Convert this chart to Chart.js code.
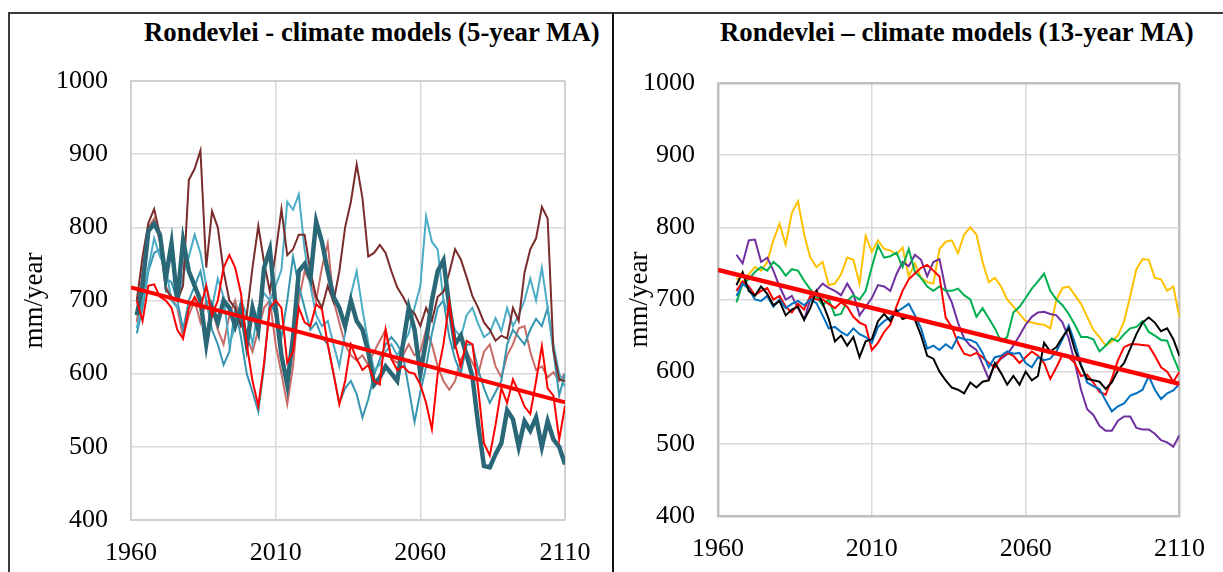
<!DOCTYPE html>
<html>
<head>
<meta charset="utf-8">
<title>Rondevlei - climate models</title>
<script src="https://cdn.jsdelivr.net/npm/chart.js@4.4.1/dist/chart.umd.min.js"></script>
<style>
  html, body { margin: 0; padding: 0; background: #fff; }
  body { width: 1223px; height: 572px; position: relative; overflow: hidden; font-family: "Liberation Serif", "Times New Roman", serif; }
  .frame { position: absolute; top: 12px; height: 580px; box-sizing: border-box; border-top: 2px solid #3a3a3a; }
  #frame-left { left: 8px; width: 606px; border-left: 2px solid #3a3a3a; border-right: 2px solid #111; }
  #frame-right { left: 614px; width: 620px; }
  .panel-title { position: absolute; top: 19px; font-weight: bold; font-size: 26.8px; line-height: 27px; white-space: nowrap; color: #000; }
  #title-left { left: 144px; }
  #title-right { left: 720px; }
  canvas { position: absolute; top: 0; }
  #chart-left { left: 8px; }
  #chart-right { left: 613px; }
</style>
</head>
<body>
<div class="frame" id="frame-left"></div>
<div class="frame" id="frame-right"></div>
<div class="panel-title" id="title-left">Rondevlei - climate models (5-year MA)</div>
<div class="panel-title" id="title-right">Rondevlei – climate models (13-year MA)</div>
<canvas id="chart-left" width="605" height="572"></canvas>
<canvas id="chart-right" width="610" height="572"></canvas>
<script>
// 5-year moving averages, every second year
const years5 = [1962, 1964, 1966, 1968, 1970, 1972, 1974, 1976, 1978, 1980,
  1982, 1984, 1986, 1988, 1990, 1992, 1994, 1996, 1998, 2000,
  2002, 2004, 2006, 2008, 2010, 2012, 2014, 2016, 2018, 2020,
  2022, 2024, 2026, 2028, 2030, 2032, 2034, 2036, 2038, 2040,
  2042, 2044, 2046, 2048, 2050, 2052, 2054, 2056, 2058, 2060,
  2062, 2064, 2066, 2068, 2070, 2072, 2074, 2076, 2078, 2080,
  2082, 2084, 2086, 2088, 2090, 2092, 2094, 2096, 2098, 2100,
  2102, 2104, 2106, 2108, 2110];

const brown5 = [700, 760, 806, 825, 790, 715, 705, 700, 720, 865,
  880, 905, 745, 822, 800, 740, 700, 690, 665, 680,
  745, 802, 752, 712, 765, 825, 762, 770, 790, 790,
  740, 705, 690, 720, 698, 740, 800, 835, 886, 840,
  760, 765, 776, 765, 740, 718, 705, 690, 682, 665,
  690, 672, 705, 712, 738, 770, 756, 732, 706, 690,
  670, 660, 645, 652, 648, 690, 672, 738, 770, 785,
  828, 812, 632, 592, 590];

const cyan5 = [662, 700, 745, 785, 760, 745, 700, 690, 735, 760,
  790, 765, 720, 690, 730, 705, 640, 665, 700, 680,
  640, 690, 710, 700, 720, 742, 835, 824, 845, 770,
  720, 680, 665, 672, 640, 610, 655, 708, 740, 688,
  642, 605, 612, 630, 640, 625, 640, 655, 690, 720,
  815, 780, 770, 700, 680, 660, 650, 680, 690, 668,
  650, 656, 676, 658, 690, 665, 680, 700, 730, 700,
  745, 690, 640, 600, 582];

const teal5 = [655, 690, 740, 765, 770, 730, 725, 700, 660, 700,
  720, 740, 700, 660, 640, 612, 630, 690, 650, 600,
  575, 548, 610, 700, 680, 650, 700, 760, 720, 690,
  660, 670, 650, 640, 600, 560, 580, 590, 572, 540,
  565, 598, 620, 640, 650, 640, 625, 580, 534, 575,
  610, 655, 690, 700, 650, 620, 600, 640, 640, 605,
  580, 560, 575, 590, 640, 660, 650, 640, 660, 675,
  665, 690, 630, 570, 600];

const red5 = [700, 672, 720, 722, 705, 700, 690, 660, 648, 690,
  705, 690, 720, 680, 700, 745, 762, 745, 710, 640,
  590, 556, 615, 690, 700, 690, 615, 630, 690, 670,
  665, 695, 688, 640, 600, 558, 590, 640, 620, 605,
  612, 590, 585, 660, 620, 605, 610, 602, 600, 585,
  560, 524, 600, 640, 698, 640, 610, 645, 640, 580,
  505, 488, 530, 580, 560, 592, 575, 555, 545, 590,
  638, 580, 570, 510, 556];

const salmon5 = [670, 740, 800, 812, 780, 720, 705, 690, 650, 680,
  700, 670, 700, 690, 660, 640, 680, 700, 670, 650,
  630, 660, 690, 700, 640, 600, 558, 610, 700, 740,
  725, 700, 745, 778, 700, 670, 640, 625, 618, 625,
  612, 630, 645, 660, 620, 615, 625, 640, 625, 630,
  660, 640, 610, 590, 578, 590, 620, 630, 615, 600,
  630, 640, 610, 595, 625, 640, 662, 665, 630, 605,
  610, 595, 602, 590, 600];

const darkTeal5 = [680, 720, 795, 805, 790, 730, 778, 700, 782, 740,
  720, 700, 640, 690, 670, 700, 690, 665, 690, 640,
  690, 660, 745, 770, 690, 625, 585, 650, 740, 750,
  730, 808, 780, 740, 705, 690, 665, 700, 672, 660,
  630, 585, 595, 610, 600, 590, 640, 690, 660, 600,
  645, 700, 740, 755, 692, 640, 652, 625, 596, 530,
  474, 472, 490, 505, 550, 538, 500, 535, 522, 540,
  500, 535, 510, 500, 476];

// 13-year moving averages, every second year
const years13 = [1966, 1968, 1970, 1972, 1974, 1976, 1978, 1980, 1982, 1984,
  1986, 1988, 1990, 1992, 1994, 1996, 1998, 2000, 2002, 2004,
  2006, 2008, 2010, 2012, 2014, 2016, 2018, 2020, 2022, 2024,
  2026, 2028, 2030, 2032, 2034, 2036, 2038, 2040, 2042, 2044,
  2046, 2048, 2050, 2052, 2054, 2056, 2058, 2060, 2062, 2064,
  2066, 2068, 2070, 2072, 2074, 2076, 2078, 2080, 2082, 2084,
  2086, 2088, 2090, 2092, 2094, 2096, 2098, 2100, 2102, 2104,
  2106, 2108, 2110];

const black13 = [720, 738, 712, 705, 718, 708, 692, 698, 678, 686,
  690, 672, 688, 712, 695, 673, 642, 650, 636, 648,
  620, 642, 645, 670, 680, 670, 685, 673, 676, 672,
  650, 622, 618, 600, 588, 578, 575, 570, 585, 578,
  586, 588, 612, 598, 582, 594, 582, 600, 588, 594,
  640, 628, 634, 648, 660, 630, 608, 590, 588, 586,
  576, 585, 602, 612, 632, 652, 668, 675, 668, 656,
  660, 645, 622];

const blue13 = [705, 722, 715, 700, 698, 705, 690, 700, 688, 694,
  698, 692, 700, 695, 678, 660, 662, 655, 650, 660,
  652, 648, 640, 662, 670, 675, 683, 688, 694, 678,
  660, 632, 636, 630, 638, 632, 648, 645, 644, 640,
  626, 606, 620, 622, 628, 625, 626, 612, 606, 620,
  616, 618, 628, 645, 664, 640, 610, 585, 580, 576,
  560, 545, 552, 556, 567, 570, 575, 594, 575, 562,
  570, 574, 583];

const red13 = [712, 725, 718, 706, 712, 716, 700, 705, 690, 682,
  694, 686, 705, 700, 700, 694, 688, 696, 690, 676,
  668, 664, 630, 640, 655, 665, 690, 712, 728, 736,
  744, 748, 740, 732, 675, 662, 640, 625, 622, 626,
  620, 612, 606, 620, 626, 622, 612, 620, 628, 622,
  612, 590, 606, 624, 620, 612, 594, 596, 585, 572,
  568, 590, 616, 634, 638, 638, 637, 636, 622, 606,
  600, 586, 600];

const green13 = [696, 722, 728, 738, 745, 740, 752, 745, 733, 742,
  740, 726, 714, 704, 692, 700, 678, 680, 698, 706,
  700, 712, 745, 775, 758, 760, 765, 745, 770, 738,
  730, 718, 712, 718, 712, 712, 715, 706, 700, 676,
  688, 674, 660, 642, 648, 682, 690, 702, 715, 725,
  736, 712, 700, 692, 680, 665, 648, 648, 645, 628,
  636, 646, 642, 652, 660, 662, 670, 655, 650, 644,
  643, 620, 600];

const purple13 = [762, 750, 782, 783, 752, 758, 740, 718, 700, 705,
  688, 672, 700, 712, 722, 716, 712, 706, 722, 708,
  678, 690, 702, 720, 718, 712, 735, 752, 746, 762,
  755, 732, 752, 756, 714, 696, 668, 646, 636, 630,
  610, 590, 610, 618, 624, 636, 650, 665, 676, 682,
  683, 680, 678, 668, 646, 612, 575, 548, 540, 525,
  518, 518, 532, 538, 538, 522, 520, 520, 514, 505,
  502, 496, 512];

const gold13 = [730, 722, 735, 745, 740, 752, 782, 805, 776, 820,
  836, 790, 758, 745, 752, 720, 722, 735, 758, 755,
  722, 788, 766, 782, 770, 768, 762, 772, 732, 750,
  730, 724, 722, 770, 780, 782, 764, 790, 800, 790,
  752, 724, 730, 718, 700, 690, 680, 670, 668, 666,
  665, 660, 700, 716, 718, 706, 694, 676, 658, 648,
  636, 642, 650, 670, 705, 742, 756, 755, 730, 728,
  712, 718, 675];

// linear trend lines, end points
const trendYears = [1960, 2110];
const trend5 = [718, 561];
const trend13 = [741, 583];

const xTicks = { min: 1960, max: 2110, step: 50 };
const yTicks = { min: 400, max: 1000, step: 100 };

Chart.defaults.font.family = '"Liberation Serif", "Times New Roman", serif';
Chart.defaults.color = '#000';

function points(xs, ys) {
  return xs.map((x, i) => ({ x: x, y: ys[i] }));
}

function line(xs, ys, color, width, order) {
  return {
    data: points(xs, ys),
    borderColor: color,
    borderWidth: width,
    pointRadius: 0,
    tension: 0,
    order: order
  };
}

// frame: plot area placement inside the canvas and the plot border style
function buildOptions(frame) {
  const isEdge = (ctx, v) => ctx.tick && ctx.tick.value === v;
  return {
    responsive: false,
    animation: false,
    events: [],
    layout: { padding: { left: 0, top: frame.top, right: frame.right, bottom: 0 } },
    plugins: { legend: { display: false }, tooltip: { enabled: false } },
    scales: {
      x: {
        type: 'linear',
        min: xTicks.min,
        max: xTicks.max,
        afterFit: s => { s.height = frame.axisHeight; },
        ticks: { stepSize: xTicks.step, padding: 18, maxRotation: 0, font: { size: 26 }, callback: v => String(v) },
        grid: {
          drawTicks: false,
          color: ctx => isEdge(ctx, xTicks.max) ? frame.edge : '#d9d9d9',
          lineWidth: ctx => isEdge(ctx, xTicks.max) ? frame.edgeWidth : 1.5
        },
        border: { color: frame.edge, width: frame.edgeWidth }
      },
      y: {
        type: 'linear',
        min: yTicks.min,
        max: yTicks.max,
        afterFit: s => { s.width = frame.axisWidth; },
        ticks: { stepSize: yTicks.step, padding: 23, font: { size: 26 }, callback: v => String(v) },
        grid: {
          drawTicks: false,
          color: ctx => isEdge(ctx, yTicks.max) ? frame.edge : '#d9d9d9',
          lineWidth: ctx => isEdge(ctx, yTicks.max) ? frame.edgeWidth : 1.5
        },
        border: { color: frame.edge, width: frame.edgeWidth },
        title: { display: true, text: 'mm/year', font: { size: 27 }, padding: { top: 11, bottom: 0 } }
      }
    }
  };
}

new Chart(document.getElementById('chart-left'), {
  type: 'line',
  data: {
    datasets: [
      line(trendYears, trend5, '#ff0000', 4, 0),
      line(years5, red5, '#ff0000', 2, 1),
      line(years5, darkTeal5, '#2a6878', 4.5, 2),
      line(years5, brown5, '#7a2c2a', 2, 3),
      line(years5, cyan5, '#4bacc6', 2, 4),
      line(years5, teal5, '#3796b0', 2, 5),
      line(years5, salmon5, '#c86a66', 2, 6)
    ]
  },
  options: buildOptions({ top: 81, right: 48, axisWidth: 123, axisHeight: 52, edge: '#d0d0d0', edgeWidth: 2 })
});

new Chart(document.getElementById('chart-right'), {
  type: 'line',
  data: {
    datasets: [
      line(trendYears, trend13, '#ff0000', 4.5, 0),
      line(years13, black13, '#000000', 2, 1),
      line(years13, blue13, '#0070c0', 2, 2),
      line(years13, red13, '#ff0000', 2, 3),
      line(years13, green13, '#00b050', 2, 4),
      line(years13, purple13, '#7030a0', 2, 5),
      line(years13, gold13, '#ffc000', 2, 6)
    ]
  },
  options: buildOptions({ top: 83, right: 41, axisWidth: 105, axisHeight: 56, edge: '#bfbfbf', edgeWidth: 2.5 })
});
</script>
</body>
</html>
